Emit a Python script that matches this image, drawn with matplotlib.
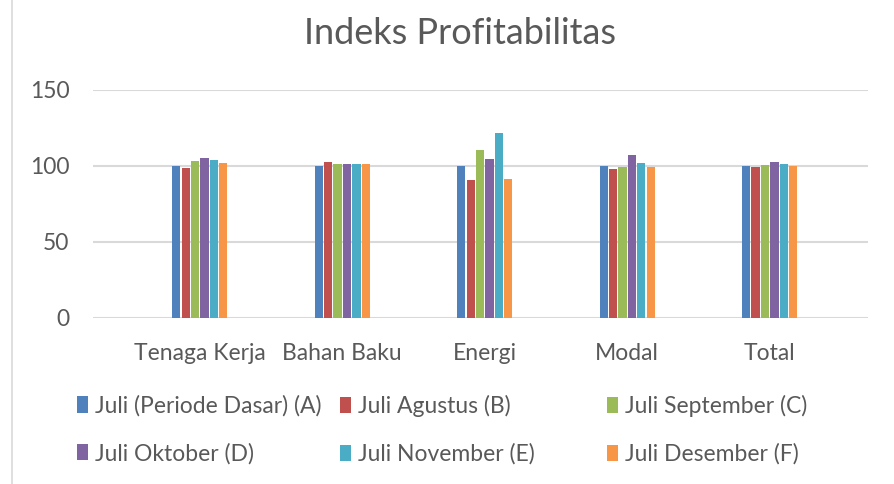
import numpy as np
import matplotlib.pyplot as plt
from matplotlib.lines import Line2D

categories = ['Tenaga Kerja', 'Bahan Baku', 'Energi', 'Modal', 'Total']
series_names = ['Juli (Periode Dasar) (A)', 'Juli Agustus (B)', 'Juli September (C)',
                'Juli Oktober (D)', 'Juli November (E)', 'Juli Desember (F)']
juli_a = [100, 100, 100, 100, 100]
juli_b = [98.7, 102.5, 90.8, 98, 99.6]
juli_c = [103.5, 101, 110.3, 99.6, 100.9]
juli_d = [105, 101, 104.4, 107, 102.4]
juli_e = [104, 101.5, 121.5, 101.7, 101.3]
juli_f = [102, 101.5, 91.4, 99.4, 100]
values = [juli_a, juli_b, juli_c, juli_d, juli_e, juli_f]
colors = ['#4F81BD', '#C0504D', '#9BBB59', '#8064A2', '#4BACC6', '#F79646']

txt = '#595959'
font = 'Lato'

fig = plt.figure(figsize=(8.94, 4.84), dpi=100)
ax = fig.add_axes([93/894, 166/484, 775/894, 228/484])

x = np.arange(len(categories))
slot = 0.066
bars = []
for i, (vals, c) in enumerate(zip(values, colors)):
    b = ax.bar(x + (i - 2.5) * slot, vals, width=slot * 0.88, color=c, zorder=3,
               label=series_names[i])
    bars.append(b)

ax.set_xlim(-0.75, 4.69)
ax.set_ylim(0, 150)
ax.set_yticks([0, 50, 100, 150])
ax.yaxis.grid(True, color='#D9D9D9', linewidth=1.5, zorder=0)
for s in ax.spines.values():
    s.set_visible(False)
ax.tick_params(axis='both', length=0, labelsize=16.5, labelcolor=txt)
ax.tick_params(axis='y', pad=17)
ax.tick_params(axis='x', pad=18)
ax.set_xticks(x)
ax.set_xticklabels(categories)
for lab in ax.get_xticklabels() + ax.get_yticklabels():
    lab.set_fontfamily(font)

fig.text(460/894, 1 - 34/484, 'Indeks Profitabilitas', ha='center', va='center',
         fontsize=26, color=txt, family=font)

# legend in three columns, two rows
col_x = [77/894, 340/894, 607/894]
for k in range(3):
    hs = [bars[k], bars[k + 3]]
    ls = [series_names[k], series_names[k + 3]]
    fig.legend(hs, ls, loc='upper left', bbox_to_anchor=(col_x[k], 1 - 395/484),
               frameon=False, ncol=1, handlelength=0.5, handleheight=0.7,
               handletextpad=0.3, labelspacing=1.15,
               prop={'family': font, 'size': 16.5}, labelcolor=txt,
               borderaxespad=0, borderpad=0)

fig.add_artist(Line2D([12/894, 12/894], [0, 1], color='#D9D9D9', linewidth=1.2))

fig.savefig('out.png', dpi=100)
